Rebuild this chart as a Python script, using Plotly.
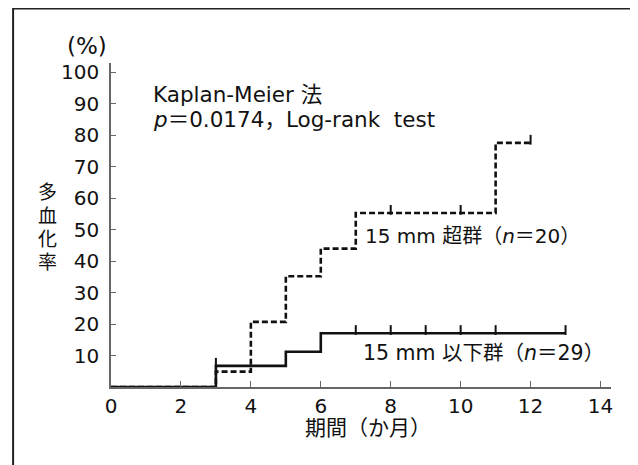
import plotly.graph_objects as go

# Step data (months, cumulative incidence %)
over15_t = [0, 3, 4, 5, 6, 7, 11, 12]
over15_v = [0, 4.9, 20.7, 35.2, 44.0, 55.3, 77.6, 77.6]
under15_t = [0, 3, 5, 6, 13]
under15_v = [0, 6.7, 11.2, 17.1, 17.1]

# censor marks
over15_cens_t = [8, 10, 12]
over15_cens_v = [55.3, 55.3, 77.6]
under15_cens_t = [3, 7, 8, 9, 10, 11, 13]
under15_cens_v = [6.7, 17.1, 17.1, 17.1, 17.1, 17.1, 17.1]

xticks = [0, 2, 4, 6, 8, 10, 12, 14]
yticks = [10, 20, 30, 40, 50, 60, 70, 80, 90, 100]

FONT = "DejaVu Sans, Noto Sans CJK JP"
INK = "#111111"

fig = go.Figure()
fig.add_trace(go.Scatter(x=over15_t, y=over15_v, mode="lines", line_shape="hv",
                         line=dict(color=INK, width=2.6, dash="6px,3px"),
                         showlegend=False, hoverinfo="skip"))
fig.add_trace(go.Scatter(x=under15_t, y=under15_v, mode="lines", line_shape="hv",
                         line=dict(color=INK, width=2.6),
                         showlegend=False, hoverinfo="skip"))
fig.add_trace(go.Scatter(x=over15_cens_t, y=[v + 1.0 for v in over15_cens_v], mode="markers",
                         marker=dict(symbol="line-ns", size=7, line=dict(color=INK, width=2)),
                         showlegend=False, hoverinfo="skip"))
fig.add_trace(go.Scatter(x=under15_cens_t, y=[v + 1.0 for v in under15_cens_v], mode="markers",
                         marker=dict(symbol="line-ns", size=7, line=dict(color=INK, width=2)),
                         showlegend=False, hoverinfo="skip"))

fig.update_layout(
    width=630, height=457,
    margin=dict(l=103, r=26.5, t=54.6, b=78),
    paper_bgcolor="white", plot_bgcolor="white",
    font=dict(family=FONT, size=20, color=INK),
    xaxis=dict(range=[0, 14.3], tickvals=xticks, ticktext=[str(v) for v in xticks],
               showgrid=False, zeroline=False, showline=True, linecolor="#666666", linewidth=1.5,
               ticks="inside", ticklen=6, tickcolor="#666666", tickwidth=1.2,
               tickfont=dict(family=FONT, size=20, color=INK)),
    yaxis=dict(range=[0, 103], tickvals=yticks, ticktext=[str(v) for v in yticks],
               showgrid=False, zeroline=False, showline=True, linecolor="#666666", linewidth=1.5,
               ticks="inside", ticklen=5, tickcolor="#666666", tickwidth=1.2,
               ticklabelstandoff=6,
               tickfont=dict(family=FONT, size=20, color=INK)),
)

ann = [
    dict(x=1.15, y=93.0, xref="x", yref="y", text="Kaplan-Meier 法", xanchor="left", yanchor="middle",
         font=dict(family=FONT, size=21.5, color=INK)),
    dict(x=1.15, y=85.0, xref="x", yref="y", text="<i>p</i>＝0.0174，Log-rank  test", xanchor="left",
         yanchor="middle", font=dict(family=FONT, size=21.5, color=INK)),
    dict(x=7.2, y=47.9, xref="x", yref="y", text="15 mm 超群（<i>n</i>＝20）", xanchor="left",
         yanchor="middle", font=dict(family=FONT, size=20, color=INK)),
    dict(x=7.15, y=10.8, xref="x", yref="y", text="15 mm 以下群（<i>n</i>＝29）", xanchor="left",
         yanchor="middle", font=dict(family=FONT, size=20.5, color=INK)),
    dict(x=-0.048, y=1.054, xref="paper", yref="paper", text="(%)", xanchor="center", yanchor="middle",
         font=dict(family=FONT, size=23, color=INK)),
    dict(x=0.513, y=-0.126, xref="paper", yref="paper", text="期間（か月）", xanchor="center",
         yanchor="middle", font=dict(family=FONT, size=21, color=INK)),
]
for ch, py in zip(["多", "血", "化", "率"], [0.601, 0.527, 0.456, 0.385]):
    ann.append(dict(x=-0.128, y=py, xref="paper", yref="paper", text=ch, xanchor="center",
                    yanchor="middle", font=dict(family=FONT, size=19, color=INK)))
for a in ann:
    a["showarrow"] = False
fig.update_layout(annotations=ann)

fig.add_shape(type="rect", xref="paper", yref="paper", x0=-0.1958, x1=1.045, y0=-0.6, y1=1.168,
              line=dict(color="#222222", width=2), fillcolor="rgba(0,0,0,0)")

fig.write_html("out.html")
